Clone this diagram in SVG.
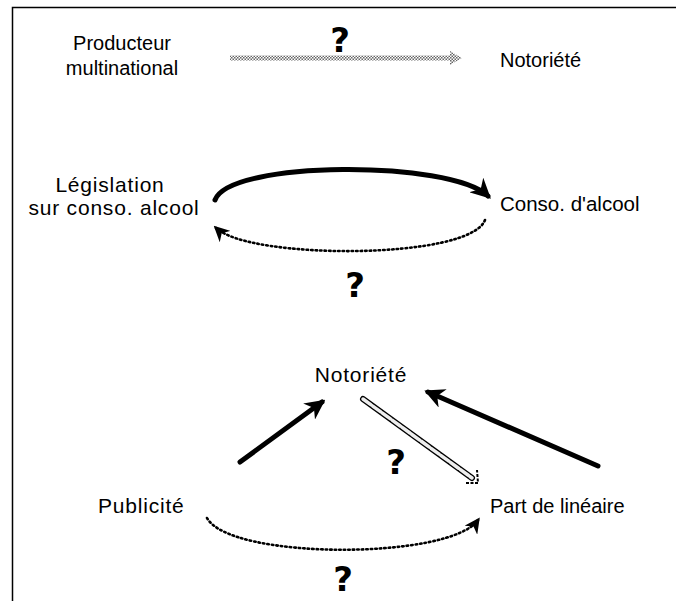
<svg xmlns="http://www.w3.org/2000/svg" width="676" height="601" viewBox="0 0 676 601">
<defs>
<style>
text{font-family:"Liberation Sans",Arial,sans-serif;font-size:20px;fill:#000}
.big{font-size:21px;letter-spacing:0.8px}
.q{font-family:"DejaVu Sans",sans-serif;font-weight:bold;font-size:34px}
.solid{fill:none;stroke:#000;stroke-width:5;stroke-linecap:round}
.dot{fill:none;stroke:#000;stroke-width:2.6;stroke-dasharray:1.5 3;stroke-linecap:round}
</style>
<pattern id="chk" width="3" height="3" patternUnits="userSpaceOnUse">
<rect width="3" height="3" fill="#fff"/>
<rect width="1.5" height="1.5" fill="#666"/>
<rect x="1.5" y="1.5" width="1.5" height="1.5" fill="#666"/>
</pattern>
<marker id="ah" viewBox="0 0 10 10" refX="8" refY="5" markerWidth="4" markerHeight="4" orient="auto" markerUnits="strokeWidth">
<path d="M0,0 L10,5 L0,10 L3,5 Z" fill="#000"/>
</marker>
<marker id="ahd" viewBox="0 0 10 10" refX="8" refY="5" markerWidth="6" markerHeight="6" orient="auto" markerUnits="strokeWidth">
<path d="M0,0 L10,5 L0,10 L3,5 Z" fill="#000"/>
</marker>
</defs>
<rect width="676" height="601" fill="#fff"/>
<g id="frame">
<path d="M12.5,601 L12.5,7.5 L676,7.5" fill="none" stroke="#000" stroke-width="1.5"/>
</g>
<g id="producteur"><text x="122" y="50" text-anchor="middle">Producteur</text><text x="122" y="75" text-anchor="middle">multinational</text></g>
<g id="notoriete1"><text x="500" y="67">Notoriété</text></g>
<g id="legislation"><text class="big" x="110" y="192" text-anchor="middle">Législation</text><text class="big" x="114" y="215" text-anchor="middle">sur conso. alcool</text></g>
<g id="conso"><text x="500" y="211" style="font-size:20.5px">Conso. d'alcool</text></g>
<g id="notoriete2"><text class="big" x="361" y="382" text-anchor="middle">Notoriété</text></g>
<g id="publicite"><text class="big" x="98" y="513">Publicité</text></g>
<g id="part"><text x="490" y="513">Part de linéaire</text></g>
<g id="connectors">
<path d="M230,55.5 L450,55.5 L450,51 L462,58 L450,65 L450,60.5 L230,60.5 Z" fill="url(#chk)"/>
<path class="solid" d="M215,200 C230,160 450,160 488,196" marker-end="url(#ah)"/>
<path class="dot" d="M485,220 C470,260 250,260 216,228" marker-end="url(#ahd)"/>
<path class="solid" d="M240,462 L322,402" marker-end="url(#ah)"/>
<path class="solid" d="M598,466 L428,392" marker-end="url(#ah)"/>
<g>
<path d="M363,399 L472,478" fill="none" stroke="#000" stroke-width="6" stroke-linecap="round"/>
<path d="M363,399 L472,478" fill="none" stroke="#eee" stroke-width="3.5" stroke-linecap="round" stroke-dasharray="10 2"/>
<path d="M466,483 L478,483 L477,470" fill="none" stroke="#000" stroke-width="2" stroke-dasharray="3 1.5"/>
</g>
<path class="dot" d="M207,518 C230,560 450,560 478,520" marker-end="url(#ahd)"/>
</g>
<g id="labels">
<text class="q" x="340" y="52" text-anchor="middle">?</text>
<text class="q" x="355" y="297" text-anchor="middle">?</text>
<text class="q" x="396" y="474" text-anchor="middle">?</text>
<text class="q" x="343" y="591" text-anchor="middle">?</text>
</g>
</svg>
